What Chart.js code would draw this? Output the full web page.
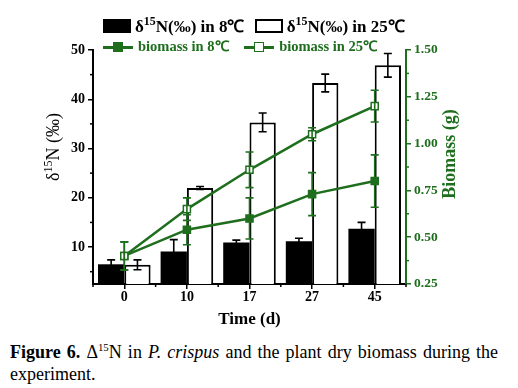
<!DOCTYPE html>
<html>
<head>
<meta charset="utf-8">
<script src="https://cdn.jsdelivr.net/npm/chart.js@4"></script>
<style>
  body { margin: 0; background: #fff; width: 518px; height: 388px; position: relative; overflow: hidden; }
  #wrap { position: absolute; left: 0; top: 0; width: 518px; height: 330px; }
  .legend { position: absolute; white-space: nowrap; font-family: 'Liberation Serif', serif; font-weight: bold; }
  .legend sup { font-size: 70%; line-height: 0; }
  #lg1 { left: 103px; top: 14px; font-size: 17px; color: #000; }
  #lg2 { left: 103px; top: 35px; font-size: 14.5px; color: #1e6e1e; }
  .box { display: inline-block; width: 28px; height: 14px; border: 2px solid #000; box-sizing: border-box; vertical-align: -1px; margin-right: 4px; }
  .box.fill { background: #000; }
  .mk { display: inline-block; position: relative; width: 30px; height: 10px; margin-right: 5px; vertical-align: -1px; }
  .mk:before { content: ''; position: absolute; left: 0; right: 0; top: 4px; height: 2.5px; background: #1e6e1e; }
  .mk i { position: absolute; left: 10px; top: 0; width: 10px; height: 10px; box-sizing: border-box; border: 1.5px solid #1e6e1e; background: #1e6e1e; }
  .mk.open i { background: #fff; }
  #caption { position: absolute; left: 10px; top: 341px; width: 488px; font-family: 'Liberation Serif', serif; font-size: 18px; line-height: 22px; color: #000; text-align: justify; }
  #caption sup { font-size: 60%; line-height: 0; }
</style>
</head>
<body>
<div id="wrap"><canvas id="chart" width="518" height="330"></canvas></div>
<div id="lg1" class="legend">
  <span class="box fill"></span>δ<sup>15</sup>N(‰) in 8℃
  <span class="box" style="margin-left:6px"></span>δ<sup>15</sup>N(‰) in 25℃
</div>
<div id="lg2" class="legend">
  <span class="mk"><i></i></span>biomass in 8℃
  <span class="mk open" style="margin-left:12px"><i></i></span>biomass in 25℃
</div>
<div id="caption"><b>Figure 6.</b> Δ<sup>15</sup>N in <i>P. crispus</i> and the plant dry biomass during the experiment.</div>
<script>
const days = ['0', '10', '17', '27', '45'];
const n8 = [6.5, 9.1, 10.9, 11.2, 13.7];
const n8Err = [0.9, 2.4, 0.5, 0.6, 1.3];
const n25 = [6.4, 22.0, 35.3, 43.3, 46.9];
const n25Err = [1.0, 0.3, 1.9, 1.8, 2.4];
const bio8 = [0.40, 0.54, 0.60, 0.73, 0.80];
const bio8Err = [0.075, 0.08, 0.11, 0.115, 0.14];
const bio25 = [0.40, 0.65, 0.86, 1.05, 1.20];
const bio25Err = [0.075, 0.06, 0.095, 0.035, 0.085];

const green = '#1e6e1e';
const serif = "'Liberation Serif', 'Times New Roman', serif";

// error bars drawn from the dataset's own scale
const errorBars = {
  id: 'errorBars',
  afterDatasetsDraw(chart) {
    const ctx = chart.ctx;
    chart.data.datasets.forEach((ds, di) => {
      if (!ds.errors) return;
      const meta = chart.getDatasetMeta(di);
      const scale = chart.scales[meta.yAxisID];
      ctx.save();
      ctx.strokeStyle = ds.errorColor;
      ctx.lineWidth = 1.6;
      meta.data.forEach((el, i) => {
        const v = ds.data[i], e = ds.errors[i];
        const yTop = scale.getPixelForValue(v + e);
        const yBot = scale.getPixelForValue(v - e);
        const x = el.x;
        ctx.beginPath();
        ctx.moveTo(x, yTop); ctx.lineTo(x, yBot);
        ctx.moveTo(x - 4, yTop); ctx.lineTo(x + 4, yTop);
        ctx.moveTo(x - 4, yBot); ctx.lineTo(x + 4, yBot);
        ctx.stroke();
      });
      ctx.restore();
    });
  }
};

// minor ticks on the axes + rotated y titles (bottom-to-top)
const axisExtras = {
  id: 'axisExtras',
  afterDraw(chart) {
    const ctx = chart.ctx;
    const x = chart.scales.x, y = chart.scales.y, y2 = chart.scales.y2;
    ctx.save();
    ctx.lineWidth = 1.5;
    ctx.strokeStyle = '#000';
    [5, 15, 25, 35, 45].forEach(v => {
      const p = y.getPixelForValue(v);
      ctx.beginPath(); ctx.moveTo(y.right - 3, p); ctx.lineTo(y.right, p); ctx.stroke();
    });
    // category boundaries on the x axis
    for (let i = 0; i <= days.length; i++) {
      const p = x.getPixelForValue(i - 0.5);
      ctx.beginPath(); ctx.moveTo(p, x.top); ctx.lineTo(p, x.top + 3); ctx.stroke();
    }
    ctx.strokeStyle = green;
    [0.375, 0.625, 0.875, 1.125, 1.375].forEach(v => {
      const p = y2.getPixelForValue(v);
      ctx.beginPath(); ctx.moveTo(y2.left, p); ctx.lineTo(y2.left + 3, p); ctx.stroke();
    });
    ctx.restore();

    // left title: δ15N (‰)
    ctx.save();
    ctx.translate(y.left + 53, 147);
    ctx.rotate(-Math.PI / 2);
    ctx.fillStyle = '#000';
    ctx.textBaseline = 'middle';
    const big = '18px ' + serif, small = '12px ' + serif;
    ctx.font = big; const w1 = ctx.measureText('δ').width, w3 = ctx.measureText('N (‰)').width;
    ctx.font = small; const w2 = ctx.measureText('15').width;
    let tx = -(w1 + w2 + w3) / 2;
    ctx.font = big; ctx.fillText('δ', tx, 1); tx += w1;
    ctx.font = small; ctx.fillText('15', tx, -4); tx += w2;
    ctx.font = big; ctx.fillText('N (‰)', tx, 1);
    ctx.restore();

    // right title: Biomass (g)
    ctx.save();
    ctx.translate(450, 154);
    ctx.rotate(-Math.PI / 2);
    ctx.fillStyle = green;
    ctx.textAlign = 'center';
    ctx.textBaseline = 'middle';
    ctx.font = 'bold 18px ' + serif;
    ctx.fillText('Biomass (g)', 0, 0);
    ctx.restore();
  }
};

new Chart(document.getElementById('chart'), {
  type: 'bar',
  data: {
    labels: days,
    datasets: [
      {
        label: 'δ15N(‰) in 8℃', data: n8, errors: n8Err, errorColor: '#000',
        backgroundColor: '#000', borderColor: '#000', borderWidth: 0,
        yAxisID: 'y', order: 2
      },
      {
        label: 'δ15N(‰) in 25℃', data: n25, errors: n25Err, errorColor: '#000',
        backgroundColor: '#fff', borderColor: '#000', borderWidth: 2,
        yAxisID: 'y', order: 2
      },
      {
        type: 'line', label: 'biomass in 8℃', data: bio8, errors: bio8Err, errorColor: green,
        borderColor: green, borderWidth: 2.5, backgroundColor: green,
        pointStyle: 'rect', pointRadius: 5, pointBorderWidth: 1.5,
        pointBackgroundColor: green, pointBorderColor: green,
        yAxisID: 'y2', order: 1
      },
      {
        type: 'line', label: 'biomass in 25℃', data: bio25, errors: bio25Err, errorColor: green,
        borderColor: green, borderWidth: 2.5, backgroundColor: '#fff',
        pointStyle: 'rect', pointRadius: 5, pointBorderWidth: 1.5,
        pointBackgroundColor: '#fff', pointBorderColor: green,
        yAxisID: 'y2', order: 0
      }
    ]
  },
  options: {
    responsive: false,
    animation: false,
    layout: { padding: { top: 50, left: 0, right: 0, bottom: 0 } },
    plugins: { legend: { display: false }, tooltip: { enabled: false } },
    datasets: { bar: { categoryPercentage: 0.84, barPercentage: 1 } },
    scales: {
      x: {
        grid: { display: true, drawOnChartArea: false, offset: false, tickLength: 5, color: '#000', lineWidth: 1.5 },
        border: { color: '#000', width: 2 },
        ticks: { color: '#000', font: { family: serif, weight: 'bold', size: 14 }, padding: 0 },
        title: { display: true, text: 'Time (d)', color: '#000', font: { family: serif, weight: 'bold', size: 17 }, padding: { top: 0, bottom: 0 } },
        afterFit(s) { s.height = 46; }
      },
      y: {
        position: 'left', min: 2.5, max: 50,
        afterBuildTicks(s) { s.ticks = [10, 20, 30, 40, 50].map(v => ({ value: v })); },
        grid: { display: true, drawOnChartArea: false, tickLength: 5, color: '#000', lineWidth: 1.5 },
        border: { color: '#000', width: 2 },
        ticks: { color: '#000', font: { family: serif, weight: 'bold', size: 14 }, padding: 3 },
        afterFit(s) { s.width = 93; }
      },
      y2: {
        position: 'right', min: 0.25, max: 1.5,
        afterBuildTicks(s) { s.ticks = [0.25, 0.5, 0.75, 1.0, 1.25, 1.5].map(v => ({ value: v })); },
        grid: { display: true, drawOnChartArea: false, tickLength: 5, color: green, lineWidth: 1.5 },
        border: { color: green, width: 2 },
        ticks: { color: green, font: { family: serif, weight: 'bold', size: 13.5 }, padding: 3, callback: v => v.toFixed(2) },
        afterFit(s) { s.width = 112; }
      }
    }
  },
  plugins: [errorBars, axisExtras]
});
</script>
</body>
</html>
